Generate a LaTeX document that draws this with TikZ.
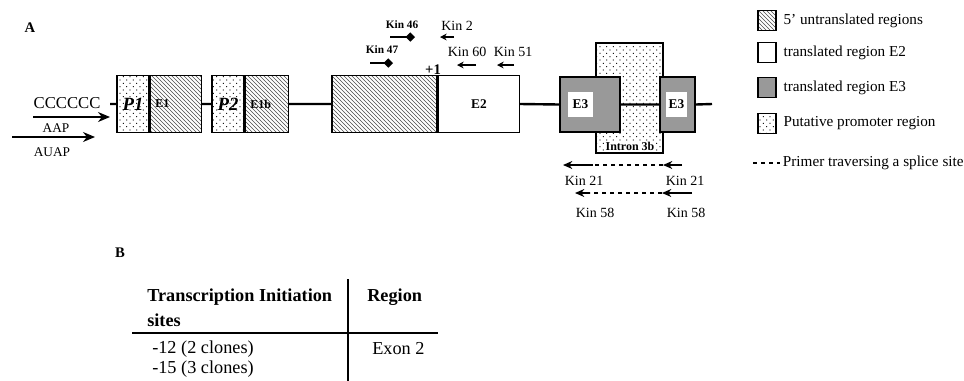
\documentclass[tikz,border=0pt]{standalone}
\usepackage{fontspec}
\setmainfont{Liberation Serif}
\usetikzlibrary{positioning,arrows.meta,patterns}

\pgfdeclarepatternformonly{sparse dots}{\pgfqpoint{-1pt}{-1pt}}{\pgfqpoint{4pt}{4pt}}{\pgfqpoint{5pt}{5pt}}{%
  \pgfpathcircle{\pgfqpoint{0pt}{0pt}}{0.45pt}%
  \pgfpathcircle{\pgfqpoint{2.5pt}{2.5pt}}{0.45pt}%
  \pgfusepath{fill}}

\begin{document}
\begin{tikzpicture}[
    x=0.75pt, y=-0.75pt,
    >=Stealth,
    exon/.style={draw, line width=1.1pt, inner sep=0pt, minimum height=42.75pt},
    utr/.style={exon, pattern=north west lines, pattern color=black!70},
    prom/.style={exon, pattern=sparse dots},
    coding/.style={exon, fill=white},
    thirdex/.style={exon, fill=black!40, minimum height=41.25pt},
    gene/.style={line width=1.8pt},
    kin/.style={font=\fontsize{10.5}{12}\selectfont},
    kinb/.style={font=\bfseries\fontsize{8.5}{10}\selectfont},
    exlab/.style={font=\bfseries\fontsize{9}{10}\selectfont},
    primer/.style={-{Stealth[length=5pt,width=5pt]}, line width=0.9pt},
    splice/.style={-{Stealth[length=7pt,width=6pt]}, line width=0.9pt},
    bigarrow/.style={-{Stealth[length=9pt,width=7.5pt]}, line width=1pt},
    legbox/.style={draw, line width=1pt, minimum width=13.5pt, minimum height=15pt, inner sep=0pt},
    legtext/.style={anchor=west, inner sep=0pt, font=\fontsize{11.4}{13}\selectfont},
    tabtext/.style={anchor=west, inner sep=0pt, font=\fontsize{13.7}{16}\selectfont},
    tabhead/.style={tabtext, font=\bfseries\fontsize{13.7}{16}\selectfont}
]
\useasboundingbox (0,0) rectangle (964,380);

\node[font=\bfseries\fontsize{11}{13}\selectfont] (labA) at (30,28) {A};

% promoter and exon boxes
\node[anchor=east, inner sep=1pt, font=\fontsize{12.5}{14}\selectfont] (cc) at (102,103) {CCCCCC};
\node[prom, minimum width=24pt, font=\bfseries\itshape\fontsize{14}{16}\selectfont] (p1) at (133,104) {P1};
\node[utr, minimum width=38.25pt, right=0pt of p1] (e1) {};
\node[exlab, anchor=west, inner sep=0pt] (e1t) at ([xshift=4pt]e1.west) {E1};
\node[prom, minimum width=24pt, font=\bfseries\itshape\fontsize{14}{16}\selectfont] (p2) at (228,104) {P2};
\node[utr, minimum width=32.25pt, right=0pt of p2] (e1b) {};
\node[exlab, anchor=west, inner sep=0pt] (e1bt) at ([xshift=4pt]e1b.west) {E1b};
\node[utr, minimum width=78.75pt] (utr2) at (384.5,104) {};
\node[coding, minimum width=60.75pt, right=0pt of utr2, font=\bfseries\fontsize{10}{12}\selectfont] (e2) {E2};

\node[prom, minimum width=50.25pt, minimum height=82.5pt] (intron) at (629.5,98) {};
\node[thirdex, minimum width=45pt] (e3a) at (590,104.5) {};
\node[thirdex, minimum width=26.25pt] (e3b) at (677.5,104.5) {};
\node[fill=white, minimum size=18.75pt, inner sep=0pt, font=\bfseries\fontsize{10}{12}\selectfont] (e3at) at (580.5,104.5) {E3};
\node[fill=white, minimum width=15.75pt, minimum height=18.75pt, inner sep=0pt, font=\bfseries\fontsize{10}{12}\selectfont] (e3bt) at (676.5,104.5) {E3};
\node[exlab, fill=white, inner sep=0.8pt] (intt) at (630,146) {Intron 3b};

\coordinate (gs) at (110,104);
\coordinate (ge) at (712,104);
\draw[gene] (gs) -- (p1.west) (e1.east) -- (p2.west) (e1b.east) -- (utr2.west)
    (e2.east) -- (e3a.west) (e3a.east) -- (e3b.west) (e3b.east) -- (ge);

% AAP and AUAP
\coordinate (aap1) at (33,117);
\coordinate (aap2) at (110,117);
\draw[bigarrow] (aap1) -- (aap2);
\node[font=\fontsize{10}{12}\selectfont] (aapt) at (56,128) {AAP};
\coordinate (auap1) at (12,137);
\coordinate (auap2) at (95,137);
\draw[bigarrow] (auap1) -- (auap2);
\node[font=\fontsize{10}{12}\selectfont] (auapt) at (52,152) {AUAP};

% primers over exon 2
\node[kinb] (k46) at (402,25) {Kin 46};
\coordinate (k46a) at (390,37);
\coordinate (k46b) at (415,37);
\draw[-{Diamond[length=7pt,width=7pt]}, line width=0.9pt] (k46a) -- (k46b);
\node[kinb] (k47) at (382,50) {Kin 47};
\coordinate (k47a) at (370,63);
\coordinate (k47b) at (393,63);
\draw[-{Diamond[length=7pt,width=7pt]}, line width=0.9pt] (k47a) -- (k47b);

\node[font=\bfseries\fontsize{11}{12}\selectfont] (plus) at (433,70) {+1};

\node[kin] (k2) at (457,26) {Kin 2};
\coordinate (k2a) at (454,37);
\coordinate (k2b) at (440,37);
\draw[primer] (k2a) -- (k2b);
\node[kin] (k60) at (467,52) {Kin 60};
\coordinate (k60a) at (476,65);
\coordinate (k60b) at (457,65);
\draw[primer] (k60a) -- (k60b);
\node[kin] (k51) at (513,52) {Kin 51};
\coordinate (k51a) at (514,65);
\coordinate (k51b) at (497,65);
\draw[primer] (k51a) -- (k51b);

% primers across the splice site
\coordinate (k21a) at (682,165);
\coordinate (k21b) at (663,165);
\coordinate (k21c) at (593,165);
\coordinate (k21d) at (563,165);
\draw[splice] (k21a) -- (k21b);
\draw[dashed, line width=0.9pt] (k21b) -- (k21c);
\draw[splice] (k21c) -- (k21d);
\node[kin] (k21l) at (584,181) {Kin 21};
\node[kin] (k21r) at (685,181) {Kin 21};

\coordinate (k58a) at (692,193);
\coordinate (k58b) at (662,193);
\coordinate (k58c) at (590,193);
\coordinate (k58d) at (575,193);
\draw[splice] (k58a) -- (k58b);
\draw[dashed, line width=0.9pt] (k58b) -- (k58c);
\draw[splice] (k58c) -- (k58d);
\node[kin] (k58l) at (595,213) {Kin 58};
\node[kin] (k58r) at (686,213) {Kin 58};

% legend
\node[legbox, pattern=north west lines, pattern color=black!70] (lg1) at (767,20.5) {};
\node[legtext, right=5pt of lg1] (lg1t) {5' untranslated regions};
\node[legbox, fill=white] (lg2) at (767,52.5) {};
\node[legtext, right=5pt of lg2] (lg2t) {translated region E2};
\node[legbox, fill=black!40] (lg3) at (767,87.5) {};
\node[legtext, right=5pt of lg3] (lg3t) {translated region E3};
\node[legbox, pattern=sparse dots] (lg4) at (767,123.5) {};
\node[legtext, right=5pt of lg4] (lg4t) {Putative promoter region};
\coordinate (lgd1) at (753,163);
\coordinate (lgd2) at (780,163);
\draw[dashed, line width=0.9pt] (lgd1) -- (lgd2);
\node[legtext, right=2pt of lgd2] (lg5t) {Primer traversing a splice site};

% table B
\node[font=\bfseries\fontsize{11}{13}\selectfont] (labB) at (120,253) {B};
\node[tabhead] (th1) at (147,297) {Transcription Initiation};
\node[tabhead] (th2) at (147,320) {sites};
\node[tabhead] (th3) at (367,297) {Region};
\node[tabtext] (tr1) at (152,349) {-12 (2 clones)};
\node[tabtext] (tr2) at (152,369) {-15 (3 clones)};
\node[tabtext] (tr3) at (372,349) {Exon 2};
\coordinate (tv1) at (348,279);
\coordinate (tv2) at (348,382);
\coordinate (th4) at (132,333);
\coordinate (th5) at (438,333);
\draw[line width=0.9pt] (tv1) -- (tv2);
\draw[line width=0.9pt] (th4) -- (th5);

\end{tikzpicture}
\end{document}
